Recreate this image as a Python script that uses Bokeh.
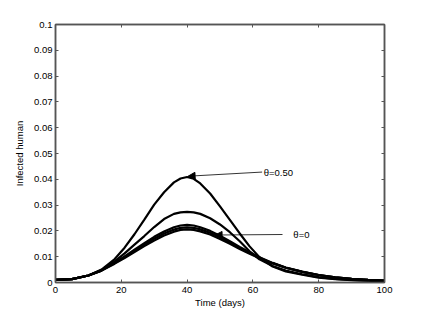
from bokeh.plotting import figure
from bokeh.models import (LinearAxis, FixedTicker, CustomJSTickFormatter, Range1d,
                          Arrow, NormalHead, Label)
from bokeh.embed import file_html
from bokeh.resources import INLINE

days = [0, 5, 10, 14, 18, 21, 24, 27, 30, 33, 36, 38, 40, 42, 44, 47, 50,
        53, 56, 59, 62, 66, 70, 75, 80, 85, 90, 95, 100]

theta_050 = [0.0010, 0.0013, 0.0027, 0.0050, 0.0091, 0.0135, 0.0187, 0.0244,
             0.0302, 0.0350, 0.0388, 0.0403, 0.0409, 0.0402, 0.0384, 0.0345,
             0.0295, 0.0243, 0.0190, 0.0140, 0.0098, 0.0062, 0.0043, 0.0030,
             0.0019, 0.0013, 0.0009, 0.0007, 0.0005]
theta_b = [0.0010, 0.0013, 0.0027, 0.0048, 0.0082, 0.0113, 0.0147, 0.0180,
           0.0215, 0.0246, 0.0266, 0.0272, 0.0274, 0.0272, 0.0266, 0.0249,
           0.0225, 0.0195, 0.0160, 0.0121, 0.0090, 0.0064, 0.0046, 0.0032,
           0.0021, 0.0014, 0.0010, 0.0007, 0.0005]
theta_c = [0.0010, 0.0013, 0.0027, 0.0047, 0.0077, 0.0101, 0.0127, 0.0152,
           0.0177, 0.0198, 0.0214, 0.0221, 0.0223, 0.0221, 0.0214, 0.0200,
           0.0181, 0.0160, 0.0138, 0.0117, 0.0098, 0.0076, 0.0058, 0.0042,
           0.0029, 0.0020, 0.0014, 0.0010, 0.0007]
theta_d = [0.0010, 0.0013, 0.0027, 0.0046, 0.0075, 0.0098, 0.0122, 0.0146,
           0.0170, 0.0190, 0.0205, 0.0212, 0.0214, 0.0212, 0.0206, 0.0193,
           0.0175, 0.0155, 0.0134, 0.0114, 0.0096, 0.0075, 0.0057, 0.0041,
           0.0029, 0.0020, 0.0014, 0.0010, 0.0007]
theta_0 = [0.0010, 0.0013, 0.0027, 0.0046, 0.0073, 0.0095, 0.0118, 0.0141,
           0.0163, 0.0182, 0.0197, 0.0204, 0.0206, 0.0204, 0.0198, 0.0186,
           0.0169, 0.0150, 0.0130, 0.0111, 0.0094, 0.0074, 0.0057, 0.0041,
           0.0029, 0.0020, 0.0014, 0.0010, 0.0007]

series = [theta_050, theta_b, theta_c, theta_d, theta_0]

x_ticks = [0, 20, 40, 60, 80, 100]
y_ticks = [0, 0.01, 0.02, 0.03, 0.04, 0.05, 0.06, 0.07, 0.08, 0.09, 0.1]

# annotations: (text, text_x, text_y, tail_x, tail_y, head_x, head_y)
annots = [
    ("θ=0.50", 63.3, 0.0426, 62.8, 0.0428, 40.3, 0.0412),
    ("θ=0", 72.3, 0.0186, 69.0, 0.0186, 48.5, 0.0184),
]

FONT = "Liberation Sans"
AX = "#555555"
FS = "9.5px"

p = figure(width=416, height=312, output_backend="svg", toolbar_location=None,
           x_range=Range1d(0, 100), y_range=Range1d(0, 0.1),
           min_border_left=55, min_border_right=32, min_border_top=24,
           min_border_bottom=30)
p.grid.visible = False
p.outline_line_color = AX
p.outline_line_width = 1.5
p.background_fill_color = "white"
p.border_fill_color = "white"

fmt = CustomJSTickFormatter(code="""
var s = tick.toFixed(2);
s = s.replace(/0+$/, '').replace(/\\.$/, '');
return s;
""")

def style_axis(ax, ticks, show_labels=True):
    ax.ticker = FixedTicker(ticks=ticks)
    ax.major_tick_in = 3
    ax.major_tick_out = 0
    ax.minor_tick_in = 0
    ax.minor_tick_out = 0
    ax.axis_line_color = AX
    ax.axis_line_width = 1.5
    ax.major_tick_line_color = AX
    ax.major_label_text_font = FONT
    ax.major_label_text_font_size = FS
    ax.major_label_text_color = "black" if show_labels else None
    ax.axis_label_text_font = FONT
    ax.axis_label_text_font_size = FS
    ax.axis_label_text_font_style = "normal"
    ax.axis_label_text_color = "black"

style_axis(p.xaxis[0], x_ticks)
p.xaxis[0].major_label_standoff = 4
p.xaxis[0].axis_label = "Time (days)"
p.xaxis[0].axis_label_standoff = 1

style_axis(p.yaxis[0], y_ticks)
p.yaxis[0].formatter = fmt
p.yaxis[0].major_label_standoff = 3
p.yaxis[0].axis_label = "Infected human"
p.yaxis[0].axis_label_standoff = 6

top = LinearAxis()
style_axis(top, x_ticks, show_labels=False)
top.major_label_standoff = 0
p.add_layout(top, "above")
right = LinearAxis(formatter=fmt)
style_axis(right, y_ticks, show_labels=False)
right.major_label_standoff = 0
p.add_layout(right, "right")

for s in series:
    p.line(days, s, line_color="black", line_width=2.2)

for txt, tx, ty, x0, y0, x1, y1 in annots:
    p.add_layout(Arrow(end=NormalHead(size=7, fill_color="black", line_color="black"),
                       x_start=x0, y_start=y0, x_end=x1, y_end=y1,
                       line_color="black", line_width=0.8))
    p.add_layout(Label(x=tx, y=ty, text=txt, text_font=FONT, text_font_size=FS,
                       text_baseline="middle", text_align="left", text_color="black"))

open("out.html", "w").write(file_html(p, INLINE))
